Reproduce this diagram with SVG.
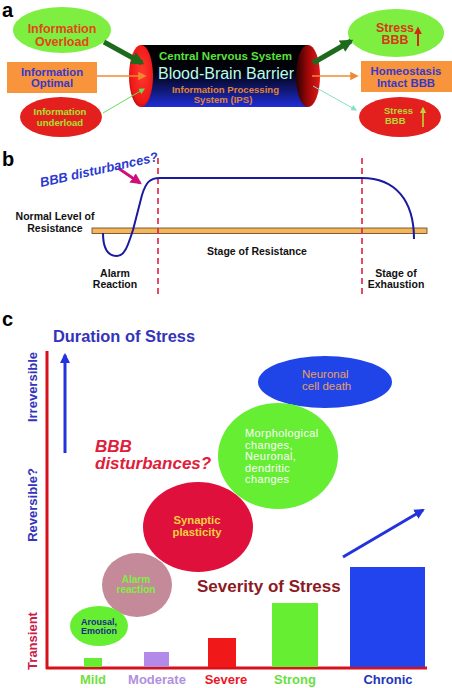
<svg xmlns="http://www.w3.org/2000/svg" width="452" height="688" viewBox="0 0 452 688">
<style>
text{font-family:"Liberation Sans",Arial,sans-serif;font-weight:bold}
.lbl{font-size:20px;fill:#000}
.blk{font-size:10.5px;fill:#111}
.rot{font-size:13px}
.bar{font-size:13px}
</style>
<defs>
<linearGradient id="body" x1="0" y1="0" x2="0" y2="1">
<stop offset="0" stop-color="#000"/><stop offset="0.45" stop-color="#02020e"/><stop offset="1" stop-color="#1e2ed8"/>
</linearGradient>
<radialGradient id="capL" cx="0.55" cy="0.45" r="0.6">
<stop offset="0" stop-color="#ff3a30"/><stop offset="0.8" stop-color="#f01818"/><stop offset="1" stop-color="#b00808"/>
</radialGradient>
<linearGradient id="capR" x1="0" y1="0" x2="1" y2="0">
<stop offset="0" stop-color="#2a0000"/><stop offset="0.5" stop-color="#a00808"/><stop offset="1" stop-color="#e01818"/>
</linearGradient>
<marker id="mDG" viewBox="0 0 10 10" refX="8" refY="5" markerWidth="2.6" markerHeight="2.6" orient="auto"><path d="M0,0L10,5L0,10z" fill="#1d6a1d"/></marker>
<marker id="mOr" viewBox="0 0 10 10" refX="8" refY="5" markerWidth="7" markerHeight="6" orient="auto"><path d="M0,0L10,5L0,10z" fill="#f08a30"/></marker>
<marker id="mLG" viewBox="0 0 10 10" refX="8" refY="5" markerWidth="6" markerHeight="6" orient="auto"><path d="M0,0L10,5L0,10z" fill="#66dd55"/></marker>
<marker id="mCy" viewBox="0 0 10 10" refX="8" refY="5" markerWidth="6" markerHeight="6" orient="auto"><path d="M0,0L10,5L0,10z" fill="#88e0c8"/></marker>
<marker id="mMg" viewBox="0 0 10 10" refX="8" refY="5" markerWidth="4" markerHeight="4" orient="auto"><path d="M0,0L10,5L0,10z" fill="#d0107a"/></marker>
<marker id="mBl" viewBox="0 0 10 10" refX="8" refY="5" markerWidth="3.5" markerHeight="3.5" orient="auto"><path d="M0,0L10,5L0,10z" fill="#2233dd"/></marker>
<marker id="mRd" viewBox="0 0 10 10" refX="8" refY="5" markerWidth="4" markerHeight="4" orient="auto"><path d="M0,0L10,5L0,10z" fill="#d02a10"/></marker>
<marker id="mYg" viewBox="0 0 10 10" refX="8" refY="5" markerWidth="4" markerHeight="4" orient="auto"><path d="M0,0L10,5L0,10z" fill="#b8d838"/></marker>
</defs>
<rect width="452" height="688" fill="#fff"/>

<!-- panel labels -->
<text class="lbl" x="2" y="17">a</text>
<text class="lbl" x="2" y="166">b</text>
<text class="lbl" x="2" y="326">c</text>

<!-- Panel a nodes -->
<g id="info-overload">
<ellipse cx="62" cy="30" rx="49" ry="23" fill="#7eee40"/>
<text x="62" y="33" text-anchor="middle" font-size="12.5" fill="#e04818">Information</text>
<text x="62" y="46" text-anchor="middle" font-size="12.5" fill="#e04818">Overload</text>
</g>
<g id="info-optimal">
<rect x="7" y="62" width="90" height="31" fill="#f7943c"/>
<text x="52" y="75.5" text-anchor="middle" font-size="11.3" fill="#3838c8">Information</text>
<text x="52" y="87" text-anchor="middle" font-size="11.3" fill="#3838c8">Optimal</text>
</g>
<g id="info-underload">
<ellipse cx="61" cy="117" rx="41" ry="20" fill="#e3201e"/>
<text x="60" y="115" text-anchor="middle" font-size="9.6" fill="#a8e030">Information</text>
<text x="60" y="126" text-anchor="middle" font-size="9.6" fill="#a8e030">underload</text>
</g>
<g id="cns-bbb">
<rect x="141" y="45" width="167" height="62" fill="url(#body)"/>
<ellipse cx="308" cy="76" rx="12" ry="31" fill="url(#capR)"/>
<ellipse cx="141" cy="76" rx="12" ry="31" fill="url(#capL)"/>
<text x="225.5" y="60" text-anchor="middle" font-size="11.5" fill="#5ce03c">Central Nervous System</text>
<text x="226" y="79" text-anchor="middle" font-size="16" fill="#b8ffe8" style="font-weight:normal">Blood-Brain Barrier</text>
<text x="225.5" y="93" text-anchor="middle" font-size="9.6" fill="#e08434">Information Processing</text>
<text x="223" y="103" text-anchor="middle" font-size="9.6" fill="#e08434">System (IPS)</text>
</g>
<g id="stress-up-green">
<ellipse cx="396" cy="33" rx="48" ry="24" fill="#7eee40"/>
<text x="395" y="31.5" text-anchor="middle" font-size="12.4" fill="#d83818">Stress</text>
<text x="395" y="44" text-anchor="middle" font-size="12.4" fill="#d83818">BBB</text>
<line x1="418" y1="46" x2="418" y2="28" stroke="#d02a10" stroke-width="2" marker-end="url(#mRd)"/>
</g>
<g id="homeostasis">
<rect x="361" y="61" width="91" height="31" fill="#f7943c"/>
<text x="406" y="75" text-anchor="middle" font-size="11.4" fill="#3838c8">Homeostasis</text>
<text x="406" y="87" text-anchor="middle" font-size="11.4" fill="#3838c8">Intact BBB</text>
</g>
<g id="stress-up-red">
<ellipse cx="400" cy="117" rx="41" ry="20" fill="#e3201e"/>
<text x="384" y="113.5" font-size="9.5" fill="#b8d838">Stress</text>
<text x="385" y="124" font-size="9.5" fill="#b8d838">BBB</text>
<line x1="423" y1="127" x2="423" y2="108" stroke="#b8d838" stroke-width="1.6" marker-end="url(#mYg)"/>
</g>

<!-- Panel a connectors -->
<g id="connectors">
<line x1="104" y1="42" x2="142" y2="63" stroke="#1d6a1d" stroke-width="5" marker-end="url(#mDG)"/>
<line x1="97" y1="76" x2="145" y2="76" stroke="#f08a30" stroke-width="1.4" marker-end="url(#mOr)"/>
<line x1="103" y1="113" x2="144" y2="89" stroke="#66dd55" stroke-width="1" marker-end="url(#mLG)"/>
<line x1="313" y1="63" x2="351" y2="41" stroke="#1d6a1d" stroke-width="5" marker-end="url(#mDG)"/>
<line x1="312" y1="76" x2="357" y2="76" stroke="#f08a30" stroke-width="1.4" marker-end="url(#mOr)"/>
<line x1="313" y1="86" x2="356" y2="110" stroke="#88e0c8" stroke-width="1" marker-end="url(#mCy)"/>
</g>

<!-- Panel b -->
<g id="panel-b">
<rect x="92" y="228" width="335" height="5.5" fill="#f5b55a" stroke="#5a4020" stroke-width="0.8"/>
<line x1="158" y1="158" x2="158" y2="294" stroke="#e02040" stroke-width="1.6" stroke-dasharray="6,4"/>
<line x1="362" y1="158" x2="362" y2="294" stroke="#e02040" stroke-width="1.6" stroke-dasharray="6,4"/>
<path d="M103,233 C103,252 110,256 117,256 C125,256 128,245 133,230 L142,195 C146,182 150,178 160,178 L362,178 C395,178 414,200 414,239" fill="none" stroke="#1a1aa0" stroke-width="2"/>
<line x1="118" y1="168" x2="140" y2="183" stroke="#d0107a" stroke-width="2.8" marker-end="url(#mMg)"/>
<text transform="translate(41,187) rotate(-12.5)" font-size="13" font-style="italic" fill="#2a3ad0">BBB disturbances?</text>
<text class="blk" x="55" y="220" text-anchor="middle">Normal Level of</text>
<text class="blk" x="55" y="232" text-anchor="middle">Resistance</text>
<text class="blk" x="115" y="277" text-anchor="middle">Alarm</text>
<text class="blk" x="115" y="288" text-anchor="middle">Reaction</text>
<text class="blk" x="257" y="255" text-anchor="middle">Stage of Resistance</text>
<text class="blk" x="396" y="277" text-anchor="middle">Stage of</text>
<text class="blk" x="396" y="288" text-anchor="middle">Exhaustion</text>
</g>

<!-- Panel c -->
<g id="panel-c-axes">
<line x1="47" y1="351" x2="47" y2="669" stroke="#d8101a" stroke-width="3"/>
<line x1="46" y1="668" x2="427" y2="668" stroke="#d8101a" stroke-width="3"/>
<text x="53" y="342" font-size="16.4" fill="#3333bb">Duration of Stress</text>
<line x1="65" y1="453" x2="65" y2="355" stroke="#2233dd" stroke-width="3" marker-end="url(#mBl)"/>
<line x1="343" y1="557" x2="423" y2="510" stroke="#2233dd" stroke-width="3" marker-end="url(#mBl)"/>
<text class="rot" text-anchor="middle" transform="translate(37,387) rotate(-90)" fill="#3333bb">Irreversible</text>
<text class="rot" text-anchor="middle" transform="translate(37,505) rotate(-90)" fill="#3333bb">Reversible?</text>
<text class="rot" text-anchor="middle" transform="translate(37,641) rotate(-90)" fill="#c8204a">Transient</text>
<text x="95" y="452" font-size="17" font-style="italic" fill="#e0203a">BBB</text>
<text x="95" y="469" font-size="17" font-style="italic" fill="#e0203a">disturbances?</text>
<text x="197" y="592" font-size="17" fill="#8b1a24">Severity of Stress</text>
</g>
<g id="neuronal-death">
<ellipse cx="325" cy="382" rx="67" ry="26" fill="#1f45e8"/>
<text x="302" y="378" font-size="11.5" fill="#e8a060" style="font-weight:normal">Neuronal</text>
<text x="302" y="390" font-size="11.5" fill="#e8a060" style="font-weight:normal">cell death</text>
</g>
<g id="morphological">
<ellipse cx="278" cy="456" rx="60" ry="53" fill="#66ee33"/>
<text x="245" y="437" font-size="11" fill="#fff" style="font-weight:normal;letter-spacing:0.4px">Morphological</text>
<text x="245" y="448.5" font-size="11" fill="#fff" style="font-weight:normal;letter-spacing:0.4px">changes,</text>
<text x="245" y="460" font-size="11" fill="#fff" style="font-weight:normal;letter-spacing:0.4px">Neuronal,</text>
<text x="245" y="471.5" font-size="11" fill="#fff" style="font-weight:normal;letter-spacing:0.4px">dendritic</text>
<text x="245" y="483" font-size="11" fill="#fff" style="font-weight:normal;letter-spacing:0.4px">changes</text>
</g>
<g id="synaptic">
<ellipse cx="198" cy="527" rx="55" ry="45" fill="#e0103c"/>
<text x="197" y="524" text-anchor="middle" font-size="11.3" fill="#f4d040">Synaptic</text>
<text x="197" y="535.5" text-anchor="middle" font-size="11.3" fill="#f4d040">plasticity</text>
</g>
<g id="alarm-reaction">
<ellipse cx="137" cy="585" rx="35" ry="32" fill="#c48a9a"/>
<text x="136" y="583" text-anchor="middle" font-size="10" fill="#80f040">Alarm</text>
<text x="136" y="593" text-anchor="middle" font-size="10" fill="#80f040">reaction</text>
</g>
<g id="arousal">
<ellipse cx="99" cy="626" rx="29" ry="20" fill="#66ee33"/>
<text x="81" y="624.5" font-size="9" fill="#1a2a8a">Arousal,</text>
<text x="81" y="634" font-size="9" fill="#1a2a8a">Emotion</text>
</g>
<g id="bars">
<rect x="84" y="658" width="18" height="9" fill="#66ee33"/>
<rect x="144" y="652" width="25" height="15" fill="#b48ae8"/>
<rect x="208" y="638" width="28" height="29" fill="#f01818"/>
<rect x="272" y="603" width="46" height="64" fill="#66ee33"/>
<rect x="350" y="567" width="75" height="100" fill="#2244ee"/>
<text class="bar" x="93" y="684" text-anchor="middle" fill="#70e040">Mild</text>
<text class="bar" x="157" y="684" text-anchor="middle" fill="#b090e0">Moderate</text>
<text class="bar" x="226" y="684" text-anchor="middle" fill="#e81828">Severe</text>
<text class="bar" x="295" y="684" text-anchor="middle" fill="#66e040">Strong</text>
<text class="bar" x="388" y="684" text-anchor="middle" fill="#2233bb">Chronic</text>
</g>
</svg>
